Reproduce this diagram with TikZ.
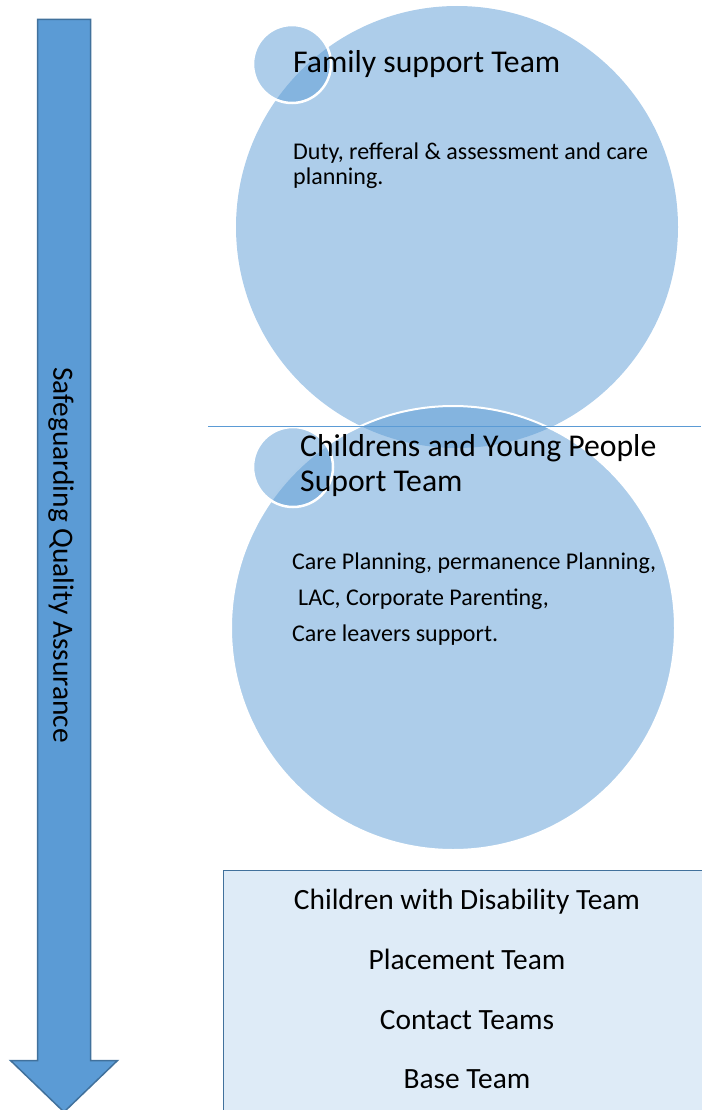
\documentclass[tikz,border=0pt]{standalone}
\usepackage{fontspec}
\setmainfont{Carlito}
\begin{document}
\begin{tikzpicture}[x=1pt,y=-1pt,
  bigc/.style={fill={rgb,255:red,91;green,155;blue,213},fill opacity=0.5,draw=white,line width=2pt},
  smallc/.style={fill={rgb,255:red,91;green,155;blue,213},fill opacity=0.5,draw=white,line width=2.5pt},
  ttl/.style={anchor=base west,inner sep=0pt,font=\fontsize{31.7}{35}\selectfont},
  body/.style={anchor=base west,inner sep=0pt,font=\fontsize{24}{25}\selectfont},
  boxtxt/.style={anchor=base,inner sep=0pt,font=\fontsize{29.4}{29}\selectfont}]
\useasboundingbox (0,0) rectangle (701,1110);
\definecolor{arrfill}{RGB}{91,155,213}
\definecolor{arrline}{RGB}{65,113,156}
\definecolor{boxfill}{RGB}{222,235,247}
% arrow
\filldraw[fill=arrfill,draw=arrline,line width=1.5pt,line join=miter]
  (37.5,19.5) -- (90.5,19.5) -- (90.5,1060.5) -- (117.5,1060.5) -- (64,1112) -- (10.5,1060.5) -- (37.5,1060.5) -- cycle;
\node[rotate=-90,inner sep=0pt,font=\fontsize{29.4}{29}\selectfont] (saq) at (61,555) {Safeguarding Quality Assurance};
% circles
\path[bigc,draw=none] (457,227) circle (221);
\path[smallc] (292,64) circle (39);
\path[bigc] (453,628) circle (222);
\path[smallc] (293,467) circle (40);
\draw[arrfill,line width=1pt] (208,426) -- (701,426);
% texts
\node[ttl] (t1) at (293,73) {Family support Team};
\node[body] (b1a) at (293,160) {Duty, refferal \& assessment and care};
\node[body] (b1b) at (293,185) {planning.};
\node[ttl] (t2a) at (300,456) {Childrens and Young People};
\node[ttl] (t2b) at (300,491) {Suport Team};
\node[body] (b2a) at (292,569) {Care Planning, permanence Planning,};
\node[body] (b2b) at (298,605) {LAC, Corporate Parenting,};
\node[body] (b2c) at (292,641) {Care leavers support.};
% box
\filldraw[fill=boxfill,draw=arrline,line width=1.5pt] (223.5,870.5) rectangle (720,1130);
\node[boxtxt] (c1) at (467,909) {Children with Disability Team};
\node[boxtxt] (c2) at (467,969) {Placement Team};
\node[boxtxt] (c3) at (467,1029) {Contact Teams};
\node[boxtxt] (c4) at (467,1088) {Base Team};
\end{tikzpicture}
\end{document}
